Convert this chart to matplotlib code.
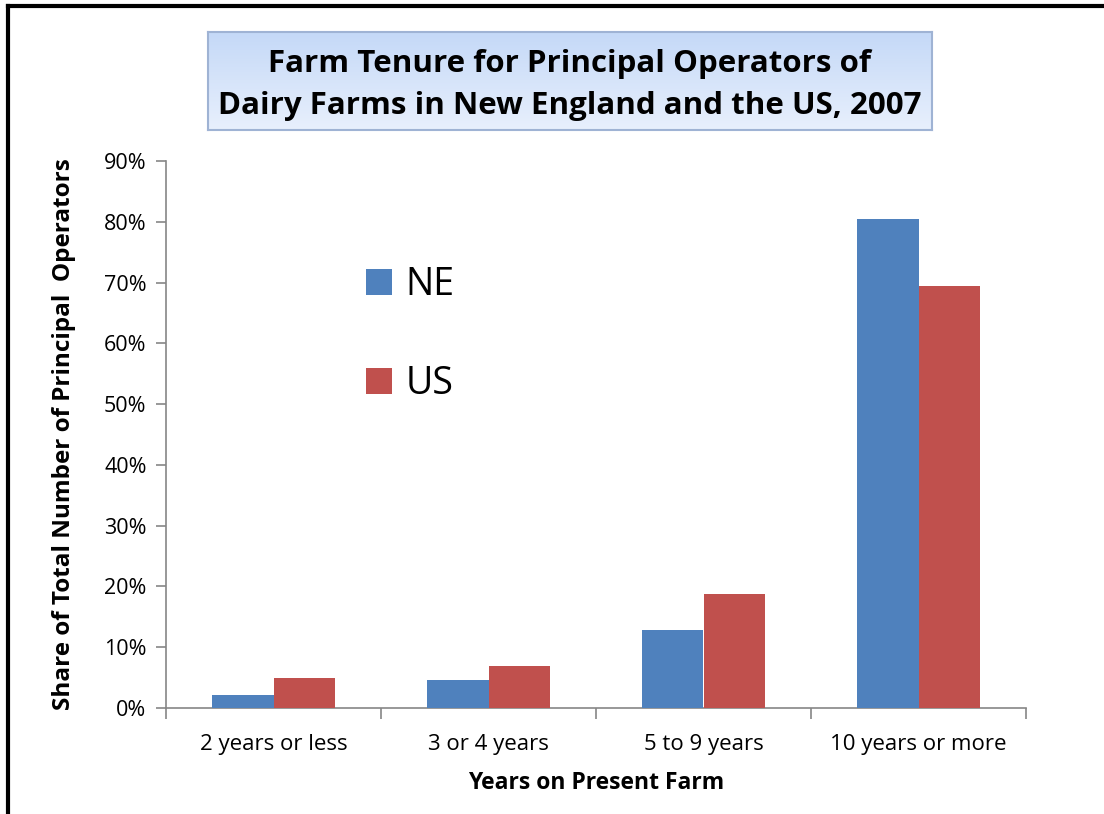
import numpy as np
import matplotlib.pyplot as plt
from matplotlib.ticker import PercentFormatter, FixedLocator
from matplotlib.lines import Line2D

# data
categories = ['2 years or less', '3 or 4 years', '5 to 9 years', '10 years or more']
ne_share = [2.1, 4.6, 12.8, 80.5]
us_share = [4.9, 6.9, 18.7, 69.5]

NE_COL = '#4F81BD'
US_COL = '#C0504D'
AX_COL = '#868686'

plt.rcParams['font.family'] = ['Open Sans', 'DejaVu Sans']

W, H = 1104, 814
fig = plt.figure(figsize=(W / 100, H / 100), dpi=100)

ax = fig.add_axes([166 / W, 1 - 708 / H, (1026 - 166) / W, (708 - 161) / H])
x = np.arange(len(categories))
bw = 0.285
ax.bar(x - bw / 2, ne_share, bw, color=NE_COL, label='NE', zorder=3)
ax.bar(x + bw / 2, us_share, bw, color=US_COL, label='US', zorder=3)

ax.set_xlim(-0.5, len(categories) - 0.5)
ax.set_ylim(0, 90)
ax.set_yticks(np.arange(0, 91, 10))
ax.yaxis.set_major_formatter(PercentFormatter(decimals=0))
ax.set_xticks(x)
ax.set_xticklabels(categories)
ax.xaxis.set_minor_locator(FixedLocator(np.arange(-0.5, len(categories), 1)))
ax.tick_params(axis='x', which='major', length=0, pad=19, labelsize=16)
ax.tick_params(axis='x', which='minor', length=8, color=AX_COL, width=1.2)
ax.tick_params(axis='y', length=7, color=AX_COL, width=1.2, labelsize=15.5, pad=7)

for s in ['top', 'right']:
    ax.spines[s].set_visible(False)
for s in ['left', 'bottom']:
    ax.spines[s].set_color(AX_COL)
    ax.spines[s].set_linewidth(1.2)

ax.set_xlabel('Years on Present Farm', fontsize=16.5, fontweight='bold', labelpad=11)
ax.set_ylabel('Share of Total Number of Principal  Operators', fontsize=17.5,
              fontweight='bold', labelpad=20)

ax.legend(loc='upper left', bbox_to_anchor=((366 - 166) / (1026 - 166), (708 - 266) / (708 - 161)),
          frameon=False, fontsize=27, handlelength=0.7, handleheight=0.7,
          handletextpad=0.35, labelspacing=1.62, borderpad=0, borderaxespad=0)

# gradient title box
tax = fig.add_axes([208 / W, 1 - 130 / H, (932 - 208) / W, (130 - 32) / H])
grad = np.linspace(0, 1, 256).reshape(-1, 1)
top_c = np.array([0.77, 0.85, 0.97])
bot_c = np.array([0.91, 0.94, 0.99])
img = top_c * (1 - grad[..., None]) + bot_c * grad[..., None]
img = img.reshape(256, 1, 3)
tax.imshow(img, aspect='auto', extent=[0, 1, 0, 1], origin='upper')
tax.set_xlim(0, 1)
tax.set_ylim(0, 1)
tax.set_xticks([])
tax.set_yticks([])
for s in tax.spines.values():
    s.set_color('#9FB3D4')
    s.set_linewidth(1.5)
tax.text(0.5, 0.46, 'Farm Tenure for Principal Operators of\nDairy Farms in New England and the US, 2007',
         ha='center', va='center', fontsize=22.5, fontweight='bold', linespacing=1.55)

# outer border (left and top only)
fig.add_artist(Line2D([8 / W, 8 / W], [0, 1 - 6 / H], color='black', lw=3))
fig.add_artist(Line2D([8 / W, 1], [1 - 6 / H, 1 - 6 / H], color='black', lw=3))

fig.savefig('out.png', dpi=100)
